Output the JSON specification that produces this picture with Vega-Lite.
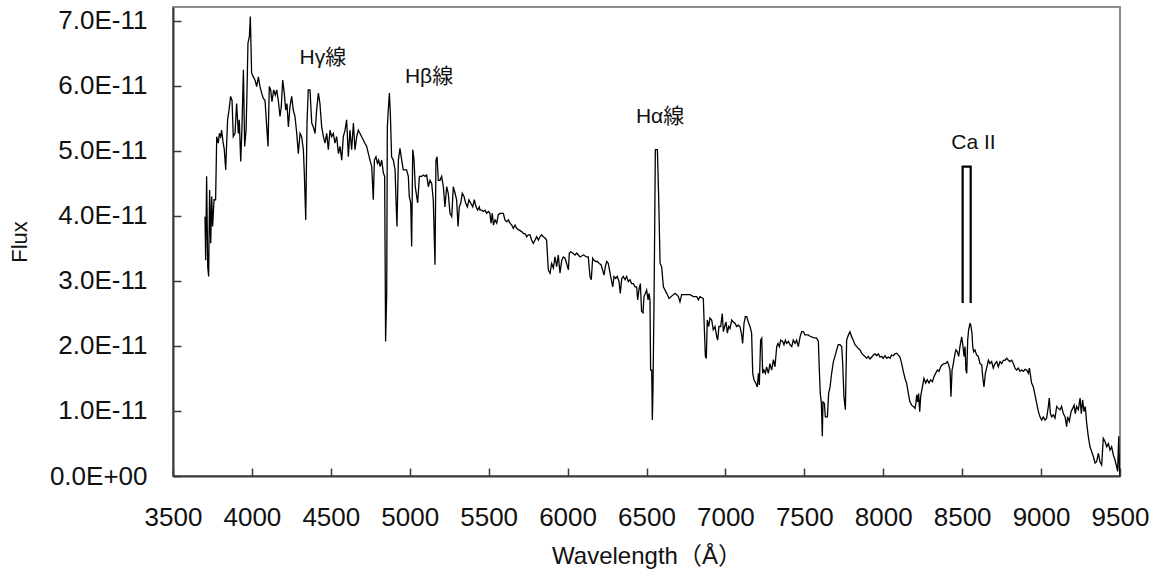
{
  "$schema": "https://vega.github.io/schema/vega-lite/v6.json",
  "autosize": {"type": "none"},
  "padding": {"left": 173, "top": 7, "right": 36, "bottom": 100},
  "width": 947,
  "height": 469,
  "background": "white",
  "config": {
    "view": {"stroke": "#8c8c8c", "strokeWidth": 2},
    "axis": {"grid": false, "domainColor": "#3a3a3a", "domainWidth": 2, "tickColor": "#3a3a3a", "tickWidth": 1.5, "labelColor": "#111", "titleColor": "#111", "labelFont": "Liberation Sans", "titleFont": "Liberation Sans, Noto Sans CJK JP", "titleFontWeight": "normal", "labelOverlap": false, "labelBound": false, "labelFlush": false}
  },
  "datasets": {
    "spectrum": [
      {"w":3703,"flux":3.99e-11},{"w":3707,"flux":3.32e-11},{"w":3713,"flux":4.61e-11},{"w":3720,"flux":3.22e-11},{"w":3726,"flux":3.07e-11},{"w":3732,"flux":4.40e-11},{"w":3739,"flux":3.58e-11},{"w":3745,"flux":4.30e-11},{"w":3751,"flux":3.84e-11},{"w":3760,"flux":4.25e-11},{"w":3770,"flux":4.25e-11},{"w":3777,"flux":5.22e-11},{"w":3787,"flux":5.12e-11},{"w":3794,"flux":5.27e-11},{"w":3802,"flux":5.22e-11},{"w":3808,"flux":5.32e-11},{"w":3817,"flux":5.14e-11},{"w":3825,"flux":5.02e-11},{"w":3834,"flux":4.71e-11},{"w":3840,"flux":5.12e-11},{"w":3846,"flux":5.48e-11},{"w":3855,"flux":5.63e-11},{"w":3865,"flux":5.84e-11},{"w":3874,"flux":5.78e-11},{"w":3882,"flux":5.22e-11},{"w":3893,"flux":5.27e-11},{"w":3903,"flux":5.73e-11},{"w":3914,"flux":5.27e-11},{"w":3920,"flux":5.48e-11},{"w":3929,"flux":4.84e-11},{"w":3937,"flux":5.37e-11},{"w":3946,"flux":6.25e-11},{"w":3954,"flux":5.07e-11},{"w":3963,"flux":5.32e-11},{"w":3969,"flux":5.94e-11},{"w":3975,"flux":6.66e-11},{"w":3984,"flux":6.76e-11},{"w":3990,"flux":7.07e-11},{"w":3998,"flux":6.20e-11},{"w":4009,"flux":6.14e-11},{"w":4020,"flux":6.09e-11},{"w":4030,"flux":5.99e-11},{"w":4041,"flux":6.14e-11},{"w":4051,"flux":5.99e-11},{"w":4062,"flux":5.89e-11},{"w":4072,"flux":5.81e-11},{"w":4083,"flux":5.78e-11},{"w":4094,"flux":5.37e-11},{"w":4102,"flux":5.07e-11},{"w":4110,"flux":5.99e-11},{"w":4119,"flux":5.94e-11},{"w":4127,"flux":5.76e-11},{"w":4138,"flux":5.94e-11},{"w":4148,"flux":5.86e-11},{"w":4157,"flux":5.94e-11},{"w":4167,"flux":5.78e-11},{"w":4178,"flux":5.53e-11},{"w":4186,"flux":5.68e-11},{"w":4195,"flux":6.09e-11},{"w":4205,"flux":5.89e-11},{"w":4214,"flux":5.63e-11},{"w":4222,"flux":5.73e-11},{"w":4231,"flux":5.37e-11},{"w":4241,"flux":5.68e-11},{"w":4252,"flux":5.84e-11},{"w":4262,"flux":5.63e-11},{"w":4273,"flux":5.53e-11},{"w":4284,"flux":5.27e-11},{"w":4294,"flux":4.96e-11},{"w":4305,"flux":5.27e-11},{"w":4315,"flux":5.22e-11},{"w":4326,"flux":5.02e-11},{"w":4332,"flux":4.66e-11},{"w":4341,"flux":3.94e-11},{"w":4349,"flux":5.43e-11},{"w":4357,"flux":5.94e-11},{"w":4368,"flux":5.94e-11},{"w":4379,"flux":5.43e-11},{"w":4389,"flux":5.37e-11},{"w":4400,"flux":5.27e-11},{"w":4410,"flux":5.63e-11},{"w":4421,"flux":5.89e-11},{"w":4431,"flux":5.73e-11},{"w":4442,"flux":5.37e-11},{"w":4453,"flux":5.22e-11},{"w":4463,"flux":5.12e-11},{"w":4474,"flux":5.27e-11},{"w":4484,"flux":5.02e-11},{"w":4495,"flux":5.32e-11},{"w":4505,"flux":5.22e-11},{"w":4516,"flux":5.27e-11},{"w":4526,"flux":5.12e-11},{"w":4537,"flux":5.22e-11},{"w":4548,"flux":4.96e-11},{"w":4558,"flux":5.07e-11},{"w":4569,"flux":4.86e-11},{"w":4579,"flux":5.22e-11},{"w":4590,"flux":5.32e-11},
      {"w":4600,"flux":5.48e-11},{"w":4611,"flux":4.91e-11},{"w":4621,"flux":5.32e-11},{"w":4632,"flux":5.02e-11},{"w":4643,"flux":5.43e-11},{"w":4653,"flux":5.02e-11},{"w":4664,"flux":5.22e-11},{"w":4674,"flux":5.32e-11},{"w":4685,"flux":5.27e-11},{"w":4695,"flux":5.22e-11},{"w":4706,"flux":5.17e-11},{"w":4716,"flux":5.12e-11},{"w":4727,"flux":5.07e-11},{"w":4738,"flux":4.96e-11},{"w":4748,"flux":4.86e-11},{"w":4759,"flux":4.76e-11},{"w":4769,"flux":4.25e-11},{"w":4776,"flux":4.86e-11},{"w":4786,"flux":4.91e-11},{"w":4795,"flux":4.81e-11},{"w":4803,"flux":4.86e-11},{"w":4812,"flux":4.76e-11},{"w":4822,"flux":4.86e-11},{"w":4833,"flux":4.66e-11},{"w":4841,"flux":4.61e-11},{"w":4847,"flux":2.07e-11},{"w":4854,"flux":2.81e-11},{"w":4858,"flux":5.37e-11},{"w":4864,"flux":5.63e-11},{"w":4871,"flux":5.89e-11},{"w":4877,"flux":5.58e-11},{"w":4885,"flux":4.91e-11},{"w":4896,"flux":4.86e-11},{"w":4907,"flux":4.71e-11},{"w":4913,"flux":4.25e-11},{"w":4919,"flux":3.84e-11},{"w":4928,"flux":4.86e-11},{"w":4938,"flux":5.04e-11},{"w":4949,"flux":4.86e-11},{"w":4959,"flux":4.71e-11},{"w":4970,"flux":4.71e-11},{"w":4980,"flux":4.71e-11},{"w":4991,"flux":4.61e-11},{"w":4997,"flux":4.30e-11},{"w":5006,"flux":4.20e-11},{"w":5012,"flux":3.53e-11},{"w":5019,"flux":5.02e-11},{"w":5027,"flux":4.86e-11},{"w":5035,"flux":4.45e-11},{"w":5044,"flux":4.30e-11},{"w":5050,"flux":4.20e-11},{"w":5061,"flux":4.61e-11},{"w":5076,"flux":4.61e-11},{"w":5086,"flux":4.63e-11},{"w":5097,"flux":4.61e-11},{"w":5107,"flux":4.63e-11},{"w":5118,"flux":4.45e-11},{"w":5128,"flux":4.55e-11},{"w":5139,"flux":4.50e-11},{"w":5149,"flux":4.25e-11},{"w":5160,"flux":3.25e-11},{"w":5166,"flux":4.86e-11},{"w":5173,"flux":4.91e-11},{"w":5181,"flux":4.55e-11},{"w":5192,"flux":4.55e-11},{"w":5202,"flux":4.61e-11},{"w":5213,"flux":4.45e-11},{"w":5223,"flux":4.14e-11},{"w":5234,"flux":4.45e-11},{"w":5244,"flux":4.35e-11},{"w":5255,"flux":4.04e-11},{"w":5266,"flux":3.99e-11},{"w":5276,"flux":4.45e-11},{"w":5287,"flux":4.35e-11},{"w":5297,"flux":4.25e-11},{"w":5306,"flux":3.84e-11},{"w":5314,"flux":4.14e-11},{"w":5323,"flux":4.20e-11},{"w":5333,"flux":4.35e-11},{"w":5344,"flux":4.30e-11},{"w":5354,"flux":4.20e-11},{"w":5365,"flux":4.14e-11},{"w":5375,"flux":4.25e-11},{"w":5386,"flux":4.20e-11},{"w":5399,"flux":4.14e-11},{"w":5409,"flux":4.25e-11},{"w":5420,"flux":4.14e-11},{"w":5430,"flux":4.09e-11},{"w":5441,"flux":4.14e-11},
      {"w":5445,"flux":4.09e-11},{"w":5456,"flux":4.09e-11},{"w":5466,"flux":4.07e-11},{"w":5477,"flux":4.09e-11},{"w":5487,"flux":4.04e-11},{"w":5498,"flux":4.07e-11},{"w":5508,"flux":4.04e-11},{"w":5515,"flux":3.89e-11},{"w":5523,"flux":4.04e-11},{"w":5530,"flux":3.86e-11},{"w":5540,"flux":3.94e-11},{"w":5551,"flux":3.89e-11},{"w":5561,"flux":4.02e-11},{"w":5572,"flux":4.04e-11},{"w":5593,"flux":4.04e-11},{"w":5603,"flux":3.94e-11},{"w":5614,"flux":3.91e-11},{"w":5625,"flux":3.94e-11},{"w":5635,"flux":3.89e-11},{"w":5646,"flux":3.86e-11},{"w":5656,"flux":3.81e-11},{"w":5667,"flux":3.86e-11},{"w":5677,"flux":3.81e-11},{"w":5688,"flux":3.79e-11},{"w":5709,"flux":3.76e-11},{"w":5720,"flux":3.73e-11},{"w":5730,"flux":3.73e-11},{"w":5741,"flux":3.68e-11},{"w":5751,"flux":3.71e-11},{"w":5762,"flux":3.71e-11},{"w":5772,"flux":3.63e-11},{"w":5783,"flux":3.58e-11},{"w":5794,"flux":3.63e-11},{"w":5804,"flux":3.68e-11},{"w":5815,"flux":3.63e-11},{"w":5825,"flux":3.68e-11},{"w":5836,"flux":3.71e-11},{"w":5846,"flux":3.68e-11},{"w":5857,"flux":3.66e-11},{"w":5867,"flux":3.63e-11},{"w":5878,"flux":3.17e-11},{"w":5889,"flux":3.12e-11},{"w":5899,"flux":3.27e-11},{"w":5910,"flux":3.20e-11},{"w":5920,"flux":3.37e-11},{"w":5931,"flux":3.22e-11},{"w":5941,"flux":3.40e-11},{"w":5952,"flux":3.12e-11},{"w":5963,"flux":3.32e-11},{"w":5973,"flux":3.37e-11},{"w":5984,"flux":3.35e-11},{"w":5994,"flux":3.27e-11},{"w":6005,"flux":3.17e-11},{"w":6011,"flux":3.43e-11},{"w":6020,"flux":3.45e-11},{"w":6032,"flux":3.43e-11},{"w":6047,"flux":3.40e-11},{"w":6058,"flux":3.43e-11},{"w":6068,"flux":3.40e-11},{"w":6079,"flux":3.37e-11},{"w":6100,"flux":3.40e-11},{"w":6121,"flux":3.37e-11},{"w":6131,"flux":3.37e-11},{"w":6142,"flux":3.07e-11},{"w":6150,"flux":3.02e-11},{"w":6159,"flux":3.35e-11},{"w":6167,"flux":3.32e-11},{"w":6178,"flux":3.30e-11},{"w":6188,"flux":3.30e-11},{"w":6201,"flux":3.27e-11},{"w":6212,"flux":3.25e-11},{"w":6222,"flux":3.17e-11},{"w":6231,"flux":3.09e-11},{"w":6239,"flux":3.22e-11},{"w":6248,"flux":3.30e-11},{"w":6258,"flux":3.27e-11},{"w":6269,"flux":3.12e-11},{"w":6277,"flux":3.02e-11},{"w":6286,"flux":2.91e-11},{"w":6294,"flux":3.07e-11},{"w":6305,"flux":3.04e-11},{"w":6315,"flux":3.07e-11},{"w":6326,"flux":2.99e-11},{"w":6334,"flux":2.81e-11},{"w":6343,"flux":3.04e-11},{"w":6353,"flux":3.07e-11},{"w":6364,"flux":3.02e-11},{"w":6374,"flux":3.07e-11},{"w":6385,"flux":2.99e-11},{"w":6395,"flux":3.02e-11},{"w":6406,"flux":2.96e-11},{"w":6417,"flux":2.96e-11},{"w":6427,"flux":2.91e-11},{"w":6438,"flux":2.91e-11},{"w":6444,"flux":2.71e-11},{"w":6452,"flux":2.86e-11},{"w":6461,"flux":2.96e-11},{"w":6469,"flux":2.53e-11},{"w":6478,"flux":2.51e-11},{"w":6484,"flux":2.76e-11},{"w":6493,"flux":2.81e-11},{"w":6501,"flux":2.86e-11},{"w":6510,"flux":2.71e-11},{"w":6516,"flux":2.81e-11},{"w":6522,"flux":2.71e-11},{"w":6526,"flux":1.63e-11},{"w":6533,"flux":1.63e-11},{"w":6537,"flux":0.86e-11},{"w":6541,"flux":1.32e-11},{"w":6548,"flux":2.76e-11},{"w":6552,"flux":3.84e-11},{"w":6556,"flux":5.02e-11},{"w":6569,"flux":5.02e-11},{"w":6577,"flux":4.30e-11},{"w":6586,"flux":3.27e-11},{"w":6596,"flux":3.22e-11},{"w":6607,"flux":2.91e-11},{"w":6628,"flux":2.81e-11},{"w":6643,"flux":2.73e-11},
      {"w":6670,"flux":2.79e-11},{"w":6681,"flux":2.81e-11},{"w":6691,"flux":2.79e-11},{"w":6702,"flux":2.76e-11},{"w":6712,"flux":2.68e-11},{"w":6723,"flux":2.79e-11},{"w":6733,"flux":2.79e-11},{"w":6755,"flux":2.79e-11},{"w":6776,"flux":2.79e-11},{"w":6797,"flux":2.76e-11},{"w":6818,"flux":2.76e-11},{"w":6828,"flux":2.71e-11},{"w":6839,"flux":2.76e-11},{"w":6860,"flux":2.73e-11},{"w":6866,"flux":2.30e-11},{"w":6873,"flux":1.84e-11},{"w":6879,"flux":1.81e-11},{"w":6885,"flux":2.40e-11},{"w":6894,"flux":2.30e-11},{"w":6902,"flux":2.43e-11},{"w":6913,"flux":2.40e-11},{"w":6923,"flux":2.25e-11},{"w":6934,"flux":2.30e-11},{"w":6945,"flux":2.14e-11},{"w":6951,"flux":2.09e-11},{"w":6959,"flux":2.30e-11},{"w":6970,"flux":2.30e-11},{"w":6980,"flux":2.50e-11},{"w":6987,"flux":2.22e-11},{"w":6995,"flux":2.30e-11},{"w":7004,"flux":2.37e-11},{"w":7012,"flux":2.20e-11},{"w":7021,"flux":2.30e-11},{"w":7029,"flux":2.27e-11},{"w":7040,"flux":2.40e-11},{"w":7050,"flux":2.37e-11},{"w":7061,"flux":2.35e-11},{"w":7071,"flux":2.30e-11},{"w":7082,"flux":2.32e-11},{"w":7092,"flux":2.30e-11},{"w":7101,"flux":2.20e-11},{"w":7109,"flux":2.04e-11},{"w":7118,"flux":2.35e-11},{"w":7126,"flux":2.45e-11},{"w":7135,"flux":2.45e-11},{"w":7145,"flux":2.37e-11},{"w":7156,"flux":2.30e-11},{"w":7166,"flux":2.20e-11},{"w":7173,"flux":1.58e-11},{"w":7181,"flux":1.48e-11},{"w":7192,"flux":1.43e-11},{"w":7202,"flux":1.37e-11},{"w":7209,"flux":1.58e-11},{"w":7215,"flux":1.40e-11},{"w":7223,"flux":2.09e-11},{"w":7230,"flux":2.12e-11},{"w":7236,"flux":1.58e-11},{"w":7244,"flux":1.63e-11},{"w":7253,"flux":1.58e-11},{"w":7261,"flux":1.68e-11},{"w":7272,"flux":1.58e-11},{"w":7282,"flux":1.73e-11},{"w":7293,"flux":1.63e-11},{"w":7304,"flux":1.79e-11},{"w":7314,"flux":1.68e-11},{"w":7325,"flux":1.99e-11},{"w":7333,"flux":2.04e-11},{"w":7342,"flux":1.99e-11},{"w":7350,"flux":2.09e-11},{"w":7363,"flux":2.07e-11},{"w":7371,"flux":2.02e-11},{"w":7380,"flux":2.09e-11},{"w":7388,"flux":2.04e-11},{"w":7399,"flux":2.07e-11},{"w":7409,"flux":2.02e-11},{"w":7420,"flux":1.99e-11},{"w":7430,"flux":2.09e-11},{"w":7441,"flux":2.04e-11},{"w":7451,"flux":2.09e-11},{"w":7462,"flux":1.99e-11},{"w":7473,"flux":2.14e-11},{"w":7483,"flux":2.22e-11},{"w":7494,"flux":2.22e-11},{"w":7504,"flux":2.17e-11},{"w":7525,"flux":2.17e-11},
      {"w":7536,"flux":2.15e-11},{"w":7557,"flux":2.13e-11},{"w":7578,"flux":2.12e-11},{"w":7589,"flux":2.07e-11},{"w":7595,"flux":1.63e-11},{"w":7601,"flux":1.27e-11},{"w":7608,"flux":1.12e-11},{"w":7614,"flux":0.61e-11},{"w":7618,"flux":1.14e-11},{"w":7627,"flux":1.12e-11},{"w":7633,"flux":0.91e-11},{"w":7646,"flux":0.91e-11},{"w":7654,"flux":1.27e-11},{"w":7663,"flux":1.37e-11},{"w":7673,"flux":1.58e-11},{"w":7684,"flux":1.76e-11},{"w":7694,"flux":1.84e-11},{"w":7705,"flux":1.94e-11},{"w":7715,"flux":2.02e-11},{"w":7726,"flux":2.02e-11},{"w":7737,"flux":1.99e-11},{"w":7743,"flux":1.73e-11},{"w":7751,"flux":1.22e-11},{"w":7760,"flux":1.02e-11},{"w":7768,"flux":2.09e-11},{"w":7779,"flux":2.17e-11},{"w":7789,"flux":2.22e-11},{"w":7800,"flux":2.14e-11},{"w":7810,"flux":2.09e-11},{"w":7821,"flux":2.02e-11},{"w":7832,"flux":1.99e-11},{"w":7842,"flux":1.96e-11},{"w":7853,"flux":1.94e-11},{"w":7863,"flux":1.89e-11},{"w":7874,"flux":1.86e-11},{"w":7884,"flux":1.84e-11},{"w":7895,"flux":1.81e-11},{"w":7905,"flux":1.84e-11},{"w":7916,"flux":1.80e-11},{"w":7927,"flux":1.83e-11},{"w":7937,"flux":1.86e-11},{"w":7948,"flux":1.88e-11},{"w":7958,"flux":1.85e-11},{"w":7969,"flux":1.88e-11},{"w":7979,"flux":1.83e-11},{"w":7990,"flux":1.84e-11},{"w":8000,"flux":1.81e-11},{"w":8011,"flux":1.85e-11},{"w":8022,"flux":1.81e-11},{"w":8032,"flux":1.83e-11},{"w":8043,"flux":1.81e-11},{"w":8053,"flux":1.86e-11},{"w":8064,"flux":1.85e-11},{"w":8074,"flux":1.88e-11},{"w":8085,"flux":1.89e-11},{"w":8096,"flux":1.86e-11},{"w":8106,"flux":1.83e-11},{"w":8117,"flux":1.73e-11},{"w":8127,"flux":1.61e-11},{"w":8138,"flux":1.50e-11},{"w":8148,"flux":1.43e-11},{"w":8159,"flux":1.27e-11},{"w":8169,"flux":1.14e-11},{"w":8180,"flux":1.09e-11},{"w":8191,"flux":1.07e-11},{"w":8201,"flux":1.04e-11},{"w":8207,"flux":1.12e-11},{"w":8212,"flux":1.25e-11},{"w":8218,"flux":1.14e-11},{"w":8224,"flux":1.27e-11},{"w":8231,"flux":0.99e-11},{"w":8237,"flux":1.22e-11},{"w":8248,"flux":1.37e-11},{"w":8258,"flux":1.50e-11},{"w":8269,"flux":1.43e-11},{"w":8279,"flux":1.48e-11},{"w":8290,"flux":1.43e-11},{"w":8300,"flux":1.48e-11},{"w":8311,"flux":1.45e-11},{"w":8322,"flux":1.53e-11},{"w":8332,"flux":1.58e-11},{"w":8343,"flux":1.63e-11},{"w":8353,"flux":1.61e-11},{"w":8364,"flux":1.68e-11},{"w":8374,"flux":1.71e-11},{"w":8385,"flux":1.73e-11},{"w":8395,"flux":1.73e-11},{"w":8406,"flux":1.76e-11},{"w":8412,"flux":1.73e-11},{"w":8423,"flux":1.63e-11},{"w":8429,"flux":1.22e-11},{"w":8436,"flux":1.63e-11},{"w":8444,"flux":1.73e-11},{"w":8455,"flux":1.89e-11},{"w":8461,"flux":1.94e-11},{"w":8469,"flux":1.91e-11},{"w":8478,"flux":1.84e-11},
      {"w":8486,"flux":1.99e-11},{"w":8497,"flux":2.14e-11},{"w":8503,"flux":2.04e-11},{"w":8512,"flux":1.84e-11},{"w":8518,"flux":1.99e-11},{"w":8524,"flux":1.63e-11},{"w":8529,"flux":1.58e-11},{"w":8535,"flux":2.09e-11},{"w":8541,"flux":2.25e-11},{"w":8550,"flux":2.35e-11},{"w":8556,"flux":2.30e-11},{"w":8562,"flux":2.20e-11},{"w":8567,"flux":1.99e-11},{"w":8573,"flux":1.91e-11},{"w":8581,"flux":1.94e-11},{"w":8592,"flux":1.86e-11},{"w":8602,"flux":1.84e-11},{"w":8613,"flux":1.73e-11},{"w":8624,"flux":1.71e-11},{"w":8630,"flux":1.53e-11},{"w":8638,"flux":1.37e-11},{"w":8647,"flux":1.58e-11},{"w":8655,"flux":1.66e-11},{"w":8666,"flux":1.78e-11},{"w":8676,"flux":1.73e-11},{"w":8687,"flux":1.76e-11},{"w":8697,"flux":1.66e-11},{"w":8708,"flux":1.73e-11},{"w":8719,"flux":1.76e-11},{"w":8729,"flux":1.68e-11},{"w":8740,"flux":1.76e-11},{"w":8750,"flux":1.73e-11},{"w":8761,"flux":1.78e-11},{"w":8771,"flux":1.78e-11},{"w":8782,"flux":1.81e-11},{"w":8793,"flux":1.78e-11},{"w":8803,"flux":1.76e-11},{"w":8814,"flux":1.78e-11},{"w":8824,"flux":1.73e-11},{"w":8835,"flux":1.66e-11},{"w":8845,"flux":1.63e-11},{"w":8856,"flux":1.66e-11},{"w":8866,"flux":1.61e-11},{"w":8877,"flux":1.63e-11},{"w":8888,"flux":1.61e-11},{"w":8898,"flux":1.64e-11},{"w":8909,"flux":1.63e-11},{"w":8919,"flux":1.58e-11},{"w":8926,"flux":1.66e-11},{"w":8934,"flux":1.53e-11},{"w":8940,"flux":1.43e-11},{"w":8951,"flux":1.37e-11},{"w":8961,"flux":1.25e-11},{"w":8972,"flux":1.12e-11},{"w":8983,"flux":0.99e-11},{"w":8993,"flux":0.91e-11},{"w":9004,"flux":0.86e-11},{"w":9014,"flux":0.91e-11},{"w":9025,"flux":0.86e-11},{"w":9035,"flux":0.89e-11},{"w":9046,"flux":1.07e-11},{"w":9052,"flux":1.20e-11},{"w":9059,"flux":0.96e-11},{"w":9067,"flux":0.91e-11},{"w":9078,"flux":0.94e-11},{"w":9088,"flux":0.89e-11},{"w":9099,"flux":1.07e-11},{"w":9109,"flux":1.04e-11},{"w":9120,"flux":1.02e-11},{"w":9130,"flux":1.07e-11},{"w":9141,"flux":0.96e-11},{"w":9152,"flux":0.91e-11},{"w":9162,"flux":0.76e-11},{"w":9168,"flux":0.91e-11},{"w":9179,"flux":0.84e-11},{"w":9190,"flux":0.99e-11},{"w":9200,"flux":1.04e-11},{"w":9209,"flux":1.09e-11},{"w":9217,"flux":0.96e-11},{"w":9225,"flux":1.07e-11},{"w":9236,"flux":1.02e-11},{"w":9247,"flux":1.20e-11},{"w":9255,"flux":0.96e-11},{"w":9263,"flux":1.17e-11},{"w":9272,"flux":0.99e-11},{"w":9280,"flux":1.07e-11},{"w":9289,"flux":0.81e-11},{"w":9299,"flux":0.61e-11},{"w":9310,"flux":0.45e-11},{"w":9321,"flux":0.37e-11},{"w":9331,"flux":0.30e-11},{"w":9342,"flux":0.20e-11},{"w":9352,"flux":0.22e-11},{"w":9363,"flux":0.35e-11},{"w":9373,"flux":0.22e-11},{"w":9384,"flux":0.17e-11},{"w":9394,"flux":0.58e-11},{"w":9405,"flux":0.53e-11},{"w":9416,"flux":0.45e-11},{"w":9426,"flux":0.50e-11},{"w":9437,"flux":0.40e-11},{"w":9447,"flux":0.45e-11},{"w":9458,"flux":0.32e-11},{"w":9468,"flux":0.25e-11},{"w":9479,"flux":0.14e-11},{"w":9485,"flux":0.07e-11},{"w":9492,"flux":0.61e-11},{"w":9496,"flux":0.14e-11},{"w":9500,"flux":0.0}
    ],
    "marker": [
      {"i":1,"w":8503,"flux":2.66e-11},
      {"i":2,"w":8503,"flux":4.76e-11},
      {"i":3,"w":8554,"flux":4.76e-11},
      {"i":4,"w":8554,"flux":2.66e-11}
    ],
    "labels": [
      {"w":4450,"flux":6.43e-11,"label":"Hγ線"},
      {"w":5122,"flux":6.14e-11,"label":"Hβ線"},
      {"w":6586,"flux":5.52e-11,"label":"Hα線"},
      {"w":8572,"flux":5.13e-11,"label":"Ca II"}
    ]
  },
  "encoding": {
    "x": {
      "field": "w", "type": "quantitative",
      "scale": {"domain": [3500, 9500], "nice": false, "zero": false},
      "axis": {
        "title": "Wavelength（Å）",
        "values": [3500,4000,4500,5000,5500,6000,6500,7000,7500,8000,8500,9000,9500],
        "format": "d",
        "labelFontSize": 26,
        "labelPadding": 36,
        "tickSize": -8,
        "titleFontSize": 24,
        "titlePadding": 14
      }
    },
    "y": {
      "field": "flux", "type": "quantitative",
      "scale": {"domain": [0, 7.215e-11], "nice": false, "zero": true},
      "axis": {
        "title": "Flux",
        "values": [0, 1e-11, 2e-11, 3e-11, 4e-11, 5e-11, 6e-11, 7e-11],
        "labelExpr": "datum.value == 0 ? '0.0E+00' : format(datum.value * 1e11, '.1f') + 'E-11'",
        "labelFontSize": 26,
        "labelPadding": 34,
        "tickSize": -8,
        "titleFontSize": 22,
        "titlePadding": 18
      }
    }
  },
  "layer": [
    {
      "data": {"name": "spectrum"},
      "mark": {"type": "line", "color": "#000", "strokeWidth": 1.3, "clip": true}
    },
    {
      "data": {"name": "marker"},
      "mark": {"type": "line", "color": "#000", "strokeWidth": 2.2},
      "encoding": {"order": {"field": "i", "type": "quantitative"}}
    },
    {
      "data": {"name": "labels"},
      "mark": {"type": "text", "fontSize": 21, "font": "Liberation Sans, Noto Sans CJK JP", "color": "#111", "align": "center", "baseline": "middle"},
      "encoding": {"text": {"field": "label"}}
    }
  ]
}
